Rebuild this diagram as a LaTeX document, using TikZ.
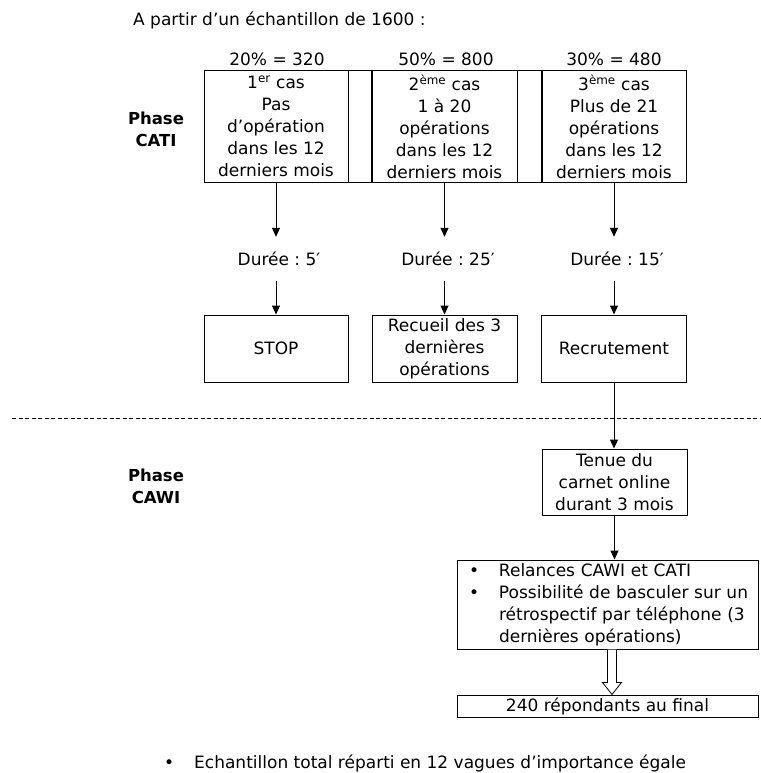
\documentclass[tikz,border=0pt]{standalone}
\usepackage{fontspec}
\setmainfont{DejaVu Sans}
\usetikzlibrary{arrows.meta,calc}
\frenchspacing
\begin{document}
\frenchspacing
\begin{tikzpicture}[x=1pt,y=-1pt,
  every node/.style={font=\fontsize{17}{22}\selectfont, inner sep=0pt, text=black},
  box/.style={draw, line width=1pt, align=center},
  arr/.style={-{Triangle[width=8pt,length=9pt]}, line width=1pt},
  phase/.style={font=\fontsize{16.5}{22}\selectfont\bfseries, align=center},
  frame/.style={line width=1pt}]
\useasboundingbox (0,0) rectangle (760,773);

\node[anchor=west] (title) at (133,20) {A partir d’un échantillon de 1600 :};

\node (p1) at (277,59) {20\% = 320};
\node (p2) at (446,59) {50\% = 800};
\node (p3) at (614,59) {30\% = 480};

\node[phase] (cati) at (156,129) {Phase\\CATI};

\node[box, minimum width=144pt, minimum height=111pt] (c1) at (276,126.5)
  {1\textsuperscript{er} cas\\Pas\\d’opération\\dans les 12\\derniers mois};
\node[box, minimum width=145pt, minimum height=111pt] (c2) at (444.5,126.5)
  {2\textsuperscript{ème} cas\\1 à 20\\opérations\\dans les 12\\derniers mois};
\node[box, minimum width=144pt, minimum height=111pt] (c3) at (614,126.5)
  {3\textsuperscript{ème} cas\\Plus de 21\\opérations\\dans les 12\\derniers mois};
\draw[frame] (c1.north east) rectangle (c2.south west);
\draw[frame] (c2.north east) rectangle (c3.south west);

\node[minimum height=44pt] (d1) at (279,259) {Durée : 5′};
\node[minimum height=44pt] (d2) at (448,259) {Durée : 25′};
\node[minimum height=44pt] (d3) at (617,259) {Durée : 15′};

\node[box, minimum width=144pt, minimum height=67pt] (s1) at (276,348.5) {STOP};
\node[box, minimum width=145pt, minimum height=67pt] (s2) at (444.5,348.5)
  {Recueil des 3\\dernières\\opérations};
\node[box, minimum width=145pt, minimum height=67pt] (s3) at (614,348.5) {Recrutement};

\draw[arr] (c1.south) -- (c1.south |- d1.north);
\draw[arr] (c2.south) -- (c2.south |- d2.north);
\draw[arr] (c3.south) -- (c3.south |- d3.north);
\draw[arr] (c1.south |- d1.south) -- (s1.north);
\draw[arr] (c2.south |- d2.south) -- (s2.north);
\draw[arr] (c3.south |- d3.south) -- (s3.north);

\coordinate (dl) at (12,418);
\coordinate (dr) at (760,418);
\draw[line width=0.8pt, dash pattern=on 4pt off 2.5pt] (dl) -- (dr);

\node[phase] (cawi) at (156,486) {Phase\\CAWI};

\node[box, minimum width=145pt, minimum height=66pt] (t) at (614.5,482)
  {Tenue du\\carnet online\\durant 3 mois};
\draw[arr] (s3.south) -- (s3.south |- t.north);

\node[draw, line width=1pt, minimum width=301pt, minimum height=89pt, text width=297pt, align=left] (r) at (607.5,604.5)
  {\hspace*{10pt}\makebox[30pt][l]{•}Relances CAWI et CATI\\
   \hspace*{10pt}\makebox[30pt][l]{•}Possibilité de basculer sur un\\
   \hspace*{40pt}rétrospectif par téléphone (3\\
   \hspace*{40pt}dernières opérations)};
\draw[arr] (t.south) -- (t.south |- r.north);

\node[box, minimum width=301pt, minimum height=22pt] (f) at (607.5,706) {240 répondants au final};

\coordinate (hx) at (612,0);
\draw[line width=0.8pt, fill=white]
  ($(hx |- r.south)+(-4.5,0)$) -- ($(hx |- f.north)+(-4.5,-12)$) -- ($(hx |- f.north)+(-9.5,-12)$)
  -- (hx |- f.north) -- ($(hx |- f.north)+(9.5,-12)$) -- ($(hx |- f.north)+(4.5,-12)$)
  -- ($(hx |- r.south)+(4.5,0)$);

\node[anchor=west] (note) at (164,763) {\makebox[30pt][l]{•}Echantillon total réparti en 12 vagues d’importance égale};
\end{tikzpicture}
\end{document}
